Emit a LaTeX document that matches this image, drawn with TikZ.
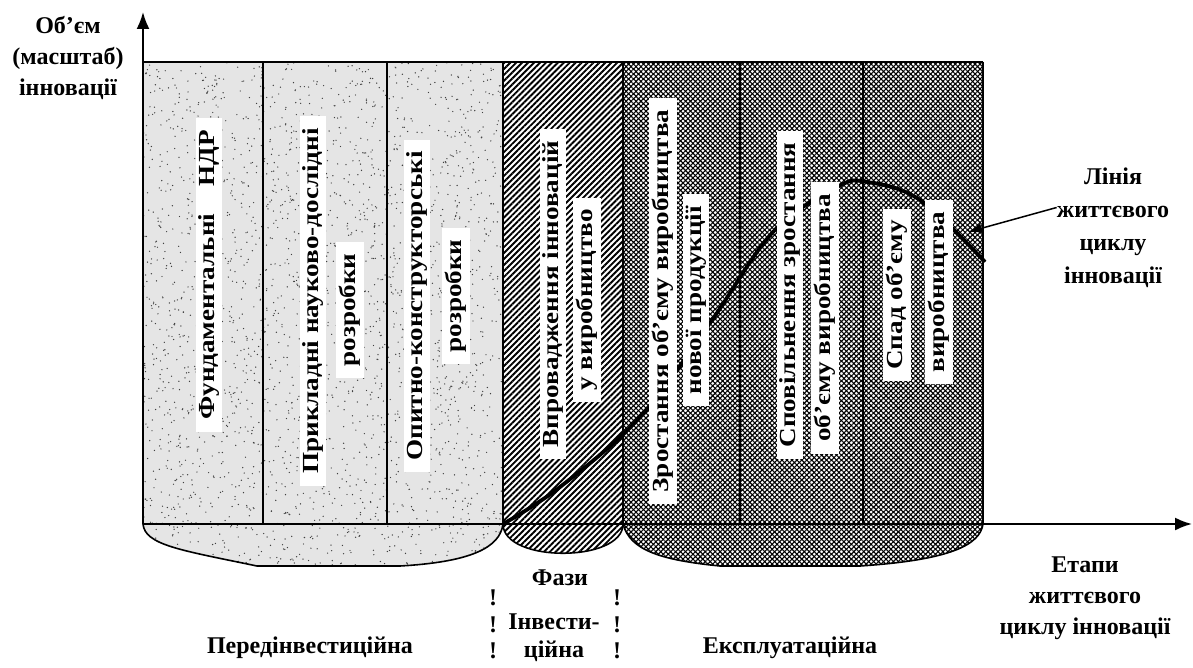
\documentclass[tikz,border=0pt]{standalone}
\usepackage{fontspec}
\setmainfont{Liberation Serif}
\usetikzlibrary{arrows.meta,patterns.meta}
\tikzset{
  lbl/.style={font=\bfseries\fontsize{24}{31}\selectfont, align=center, inner sep=0pt},
  vlbl/.style={font=\bfseries\fontsize{23}{27}\selectfont, fill=white, rotate=90, xscale=1.18, inner xsep=10pt, inner ysep=3pt},
  hatch/.style={pattern={Lines[angle=45,distance=4.2pt,line width=1.9pt]}},
  chk/.style={pattern={Lines[angle=#1,distance=3.5pt,line width=1.1pt]}},
  lobe/.style={line width=1.6pt},
  axis/.style={line width=2pt, -{Latex[length=17pt,width=13pt]}}
}
\begin{document}
\begin{tikzpicture}[x=1pt,y=-1pt]
  \useasboundingbox (0,0) rectangle (1193,668);
  \path (143,524) coordinate (O) (143,12) coordinate (Y) (1192,524) coordinate (X)
        (503,524) coordinate (P) (623,524) coordinate (Q) (983,524) coordinate (R);
  % pre-investment: stippled
  \begin{scope}
    \clip (143,62) -- (503,62) -- (P) .. controls (500,548) and (470,562) .. (400,566)
      -- (257,566) .. controls (180,550) and (145,545) .. (O) -- cycle;
    \fill[black!10] (140,60) rectangle (506,570);
    \pgfmathsetseed{11}
    \foreach \i in {1,...,2600} \fill[black!75] ({143+360*rnd},{62+505*rnd}) circle (0.7pt);
  \end{scope}
  % investment: hatched
  \fill[white] (503,62) rectangle (623,524);
  \fill[hatch] (503,62) -- (623,62) -- (Q) .. controls (623,563) and (503,563) .. (P) -- cycle;
  % exploitation: cross-hatched
  \foreach \a in {45,-45}
    \fill[chk=\a] (623,62) -- (983,62) -- (R) .. controls (980,545) and (950,560) .. (860,566)
      -- (720,566) .. controls (660,560) and (630,550) .. (Q) -- cycle;
  % life cycle line
  \draw[line width=3.8pt] plot[smooth, tension=0.6] coordinates
    {(503,524) (560,487) (640,417) (710,323) (773,232) (837,187) (867,182) (920,200) (985,262)};
  \node[vlbl] (c1) at (209,275) {Фундаментальні\quad НДР};
  \node[vlbl] (c2a) at (313,301) {Прикладні науково-дослідні};
  \node[vlbl] (c2b) at (350,310) {розробки};
  \node[vlbl] (c3a) at (417,306) {Опитно-конструкторські};
  \node[vlbl] (c3b) at (456,296) {розробки};
  \node[vlbl] (c4a) at (553,294) {Впровадження інновацій};
  \node[vlbl] (c4b) at (587,300) {у виробництво};
  \node[vlbl] (c5a) at (663,301) {Зростання об'єму виробництва};
  \node[vlbl] (c5b) at (696,300) {нової продукції};
  \node[vlbl] (c6a) at (790,295) {Сповільнення зростання};
  \node[vlbl] (c6b) at (825,318) {об'єму виробництва};
  \node[vlbl] (c7a) at (897,295) {Спад об'єму};
  \node[vlbl] (c7b) at (939,292) {виробництва};
  % frame
  \draw[line width=1.4pt] (143,62) -- (983,62);
  \foreach \x in {263,387,503,623,740,863} \draw[line width=1.2pt] (\x,62) -- (\x,524);
  \draw[lobe] (983,62) -- (R);
  \draw[lobe] (P) .. controls (500,548) and (470,562) .. (400,566) -- (257,566) .. controls (180,550) and (145,545) .. (O);
  \draw[lobe] (Q) .. controls (623,563) and (503,563) .. (P);
  \draw[lobe] (R) .. controls (980,545) and (950,560) .. (860,566) -- (720,566) .. controls (660,560) and (630,550) .. (Q);
  \draw[axis] (O) -- (Y);
  \draw[axis] (O) -- (X);
  % labels
  \node[lbl] (ylbl) at (68,58) {Об'єм\\(масштаб)\\інновації};
  \node[lbl, font=\bfseries\fontsize{24}{33}\selectfont] (lifelbl) at (1113,228) {Лінія\\життєвого\\циклу\\інновації};
  \coordinate (lcp) at (968,232);
  \draw[line width=1.5pt, -{Latex[length=14pt,width=10pt]}] (lifelbl.160) -- (lcp);
  \node[lbl] (stagelbl) at (1085,598) {Етапи\\життєвого\\циклу інновації};
  \node[lbl] (phaselbl) at (560,578) {Фази};
  \node[lbl, font=\bfseries\fontsize{24}{28}\selectfont] (invlbl) at (554,638) {Інвести-\\ційна};
  \node[lbl] (prelbl) at (310,648) {Передінвестиційна};
  \node[lbl] (explbl) at (790,648) {Експлуатаційна};
  \foreach \x in {493,617} \foreach \y in {598,625,651}
    \node[lbl] (ex-\x-\y) at (\x,\y) {!};
\end{tikzpicture}
\end{document}
